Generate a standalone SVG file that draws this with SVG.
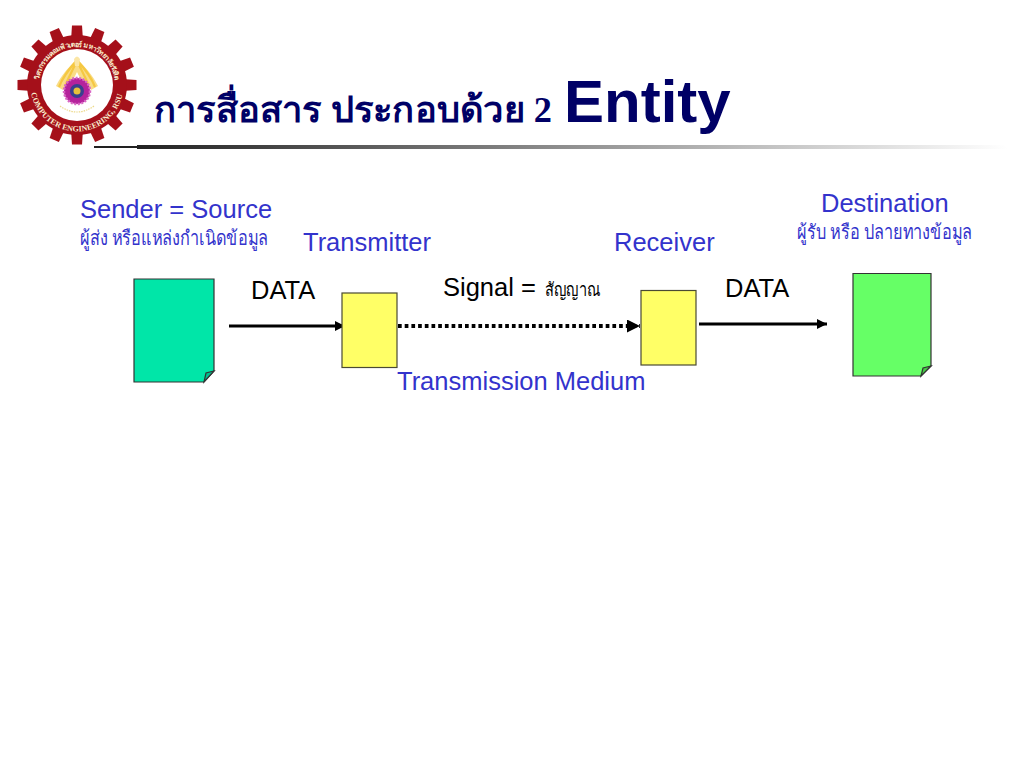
<svg xmlns="http://www.w3.org/2000/svg" xmlns:xlink="http://www.w3.org/1999/xlink" width="1024" height="768" viewBox="0 0 1024 768">
<defs>
<linearGradient id="rule" x1="0" x2="1" y1="0" y2="0"><stop offset="0" stop-color="#222"/><stop offset="1" stop-color="#fff"/></linearGradient>
<marker id="ah" markerUnits="userSpaceOnUse" markerWidth="12" markerHeight="12" refX="10" refY="5" orient="auto"><path d="M0 0L10 5L0 10Z" fill="#000"/></marker>
<marker id="ah2" markerUnits="userSpaceOnUse" markerWidth="14" markerHeight="14" refX="13" refY="6.500" orient="auto"><path d="M0 0L13 6.500L0 13Z" fill="#000"/></marker>
<path id="arcTop" d="M39.300 80A38 38 0 0 1 114.700 80"/>
<path id="arcBot" d="M31.200 93A46.500 46.500 0 0 0 122.800 93"/>
<path id="tooth" d="M71 40L72 25.500H82L83 40Z" fill="#a5101a"/>
</defs>
<style>
text{font-family:"Liberation Sans",Arial,sans-serif}
.b{fill:#3333cc;font-size:25.500px}
.k{fill:#000;font-size:25.500px}
.th{font-family:"Liberation Serif","Noto Sans",serif}
.doc{stroke:#333;stroke-width:1.2}
.box{fill:#ffff66;stroke:#4a4a33;stroke-width:1.2}
.ln{fill:none;stroke:#000;stroke-width:3}
.ray{stroke:#f5c842;stroke-width:2.200;fill:none}
.lg{fill:#f8eccd;font-family:"Liberation Serif",serif;font-weight:bold}
</style>
<rect width="1024" height="768" fill="#fff"/>
<g id="logo">
<use href="#tooth"/>
<use href="#tooth" transform="rotate(22.500 77 85)"/>
<use href="#tooth" transform="rotate(45 77 85)"/>
<use href="#tooth" transform="rotate(67.500 77 85)"/>
<use href="#tooth" transform="rotate(90 77 85)"/>
<use href="#tooth" transform="rotate(112.500 77 85)"/>
<use href="#tooth" transform="rotate(135 77 85)"/>
<use href="#tooth" transform="rotate(157.500 77 85)"/>
<use href="#tooth" transform="rotate(180 77 85)"/>
<use href="#tooth" transform="rotate(202.500 77 85)"/>
<use href="#tooth" transform="rotate(225 77 85)"/>
<use href="#tooth" transform="rotate(247.500 77 85)"/>
<use href="#tooth" transform="rotate(270 77 85)"/>
<use href="#tooth" transform="rotate(292.500 77 85)"/>
<use href="#tooth" transform="rotate(315 77 85)"/>
<use href="#tooth" transform="rotate(337.500 77 85)"/>
<circle cx="77" cy="85" r="50" fill="#a5101a"/>
<circle cx="77" cy="85" r="36" fill="#fff"/>
<text class="lg" font-size="7"><textPath href="#arcTop" textLength="110">วิศวกรรมคอมพิวเตอร์ มหาวิทยาลัยรังสิต</textPath></text>
<text class="lg" font-size="8"><textPath href="#arcBot" textLength="128">COMPUTER ENGINEERING, RSU</textPath></text>
<path d="M77 60C69 66 61 76 56 86L63 90C66 84 70 80 74 78L77 72L80 78C84 80 88 84 91 90L98 86C93 76 85 66 77 60Z" fill="#f9dc86"/>
<path class="ray" d="M77 60C70 68 63 76 59 87M77 60C74 68 70 74 66 84M77 60C80 68 84 74 88 84M77 60C84 68 91 76 95 87"/>
<path d="M74 59Q77 54 80 59L79 66H75Z" fill="#fbe6a6"/>
<path d="M60 106Q77 118 94 106" fill="none" stroke="#ecd98a" stroke-width="1.200" stroke-dasharray="1.500 1"/>
<circle cx="77" cy="91" r="13" fill="#b5229c" stroke="#d968c4" stroke-width="2.500" stroke-dasharray="2 1.500"/>
<circle cx="77" cy="91" r="7" fill="#3a3f8f"/>
<circle cx="77" cy="91" r="3.500" fill="#e8c13a"/>
</g>
<text x="154" y="122" class="th" font-size="36" font-weight="bold" fill="#000066" textLength="398" lengthAdjust="spacingAndGlyphs">การสื่อสาร ประกอบด้วย 2</text>
<text x="564" y="122" font-size="60" font-weight="bold" fill="#000066">Entity</text>
<rect x="94" y="146" width="44" height="2" fill="#222"/>
<rect x="137" y="145" width="870" height="4" fill="url(#rule)"/>
<text x="80" y="218" class="b">Sender = Source</text>
<text x="80" y="245" class="b th" style="font-size:20px" textLength="188" lengthAdjust="spacingAndGlyphs">ผู้ส่ง หรือแหล่งกำเนิดข้อมูล</text>
<text x="303" y="251" class="b">Transmitter</text>
<text x="614" y="251" class="b">Receiver</text>
<text x="821" y="212" class="b">Destination</text>
<text x="797" y="239" class="b th" style="font-size:20px" textLength="175" lengthAdjust="spacingAndGlyphs">ผู้รับ หรือ ปลายทางข้อมูล</text>
<text x="251" y="299" class="k">DATA</text>
<text x="725" y="297" class="k">DATA</text>
<text x="443" y="296" class="k">Signal =</text>
<text x="545" y="296" class="th" font-size="19" fill="#000" textLength="56" lengthAdjust="spacingAndGlyphs">สัญญาณ</text>
<text x="397" y="390" class="b">Transmission Medium</text>
<g id="connectors">
<path class="ln" d="M229 326H345" marker-end="url(#ah)"/>
<path class="ln" d="M398 326H640" stroke-dasharray="3.700 3" style="stroke-width:4" marker-end="url(#ah2)"/>
<path class="ln" d="M699 324H827" marker-end="url(#ah)"/>
</g>
<g id="sender"><path class="doc" fill="#00e6a8" d="M134 279H214V371L204 382H134Z"/><path class="doc" fill="#00c090" d="M204 382L206 373L214 371Z"/></g>
<g id="transmitter"><rect class="box" x="342" y="293" width="55" height="74.500"/></g>
<g id="receiver"><rect class="box" x="641" y="290.500" width="55" height="74.500"/></g>
<g id="destination"><path class="doc" fill="#66ff66" d="M853 273.500H931V366L921 376H853Z"/><path class="doc" fill="#44cc44" d="M921 376L923 368L931 366Z"/></g>
</svg>
